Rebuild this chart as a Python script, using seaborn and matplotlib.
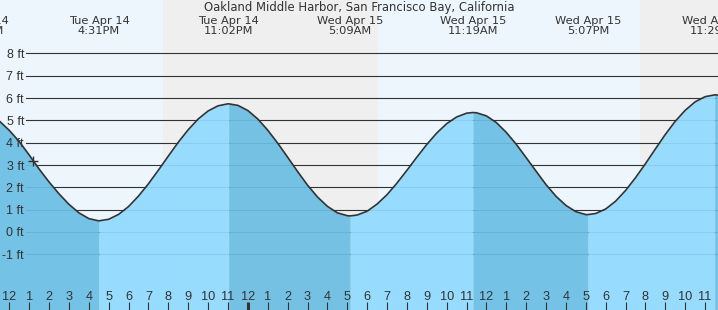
import pandas as pd
import matplotlib
matplotlib.use('Agg')
import matplotlib.pyplot as plt
import seaborn as sns
from matplotlib.transforms import blended_transform_factory

TITLE = "Oakland Middle Harbor, San Francisco Bay, California"
# time axis: hours since Tue Apr 14, 12:00 PM
extreme_hours = [-1.55, 4.517, 11.033, 17.15, 23.317, 29.117, 35.483]
extreme_heights = [5.75, 0.5, 5.74, 0.72, 5.35, 0.78, 6.14]
extreme_labels = ["Tue Apr 14\n10:27AM", "Tue Apr 14\n4:31PM", "Tue Apr 14\n11:02PM",
                  "Wed Apr 15\n5:09AM", "Wed Apr 15\n11:19AM", "Wed Apr 15\n5:07PM",
                  "Wed Apr 15\n11:29PM"]
night_start = [7.73, 31.74]
night_end = [18.55, 40.0]
hour_ticks = list(range(0, 36))
hour_labels = ["12", "1", "2", "3", "4", "5", "6", "7", "8", "9", "10", "11",
               "12", "1", "2", "3", "4", "5", "6", "7", "8", "9", "10", "11",
               "12", "1", "2", "3", "4", "5", "6", "7", "8", "9", "10", "11"]
ft_ticks = [-1, 0, 1, 2, 3, 4, 5, 6, 7, 8]
ft_labels = ["-1 ft", "0 ft", "1 ft", "2 ft", "3 ft", "4 ft", "5 ft", "6 ft", "7 ft", "8 ft"]
now_hour = 1.21
now_height = 3.18

# tide height readings every half hour, from -0.5 h to 36.0 h
read_hours = [-0.5, 0.0, 0.5, 1.0, 1.5, 2.0, 2.5, 3.0, 3.5, 4.0, 4.5, 5.0,
              5.5, 6.0, 6.5, 7.0, 7.5, 8.0, 8.5, 9.0, 9.5, 10.0, 10.5, 11.0,
              11.5, 12.0, 12.5, 13.0, 13.5, 14.0, 14.5, 15.0, 15.5, 16.0, 16.5, 17.0,
              17.5, 18.0, 18.5, 19.0, 19.5, 20.0, 20.5, 21.0, 21.5, 22.0, 22.5, 23.0,
              23.5, 24.0, 24.5, 25.0, 25.5, 26.0, 26.5, 27.0, 27.5, 28.0, 28.5, 29.0,
              29.5, 30.0, 30.5, 31.0, 31.5, 32.0, 32.5, 33.0, 33.5, 34.0, 34.5, 35.0,
              35.5, 36.0]
read_heights = [4.97, 4.55, 4.05, 3.45, 2.82, 2.24, 1.71, 1.24, 0.86, 0.60, 0.50, 0.57,
                0.79, 1.14, 1.61, 2.16, 2.77, 3.40, 4.02, 4.58, 5.06, 5.42, 5.65, 5.74,
                5.67, 5.44, 5.06, 4.56, 3.98, 3.35, 2.71, 2.10, 1.57, 1.15, 0.86, 0.73,
                0.76, 0.93, 1.25, 1.67, 2.19, 2.76, 3.35, 3.92, 4.43, 4.85, 5.15, 5.32,
                5.34, 5.20, 4.90, 4.46, 3.93, 3.33, 2.72, 2.12, 1.60, 1.19, 0.91, 0.78,
                0.83, 1.03, 1.38, 1.86, 2.43, 3.06, 3.72, 4.37, 4.96, 5.45, 5.83, 6.06,
                6.14, 6.12]

W, H = 718, 310
PXH = 19.88   # pixels per hour
X0 = 9.3      # pixel of first tick
PXF = 22.33   # pixels per foot
Y0 = 232      # pixel of 0 ft

fig = plt.figure(figsize=(W / 100, H / 100), dpi=100)
ax = fig.add_axes([0, 0, 1, 1])
xlim = (-X0 / PXH, (W - X0) / PXH)
ylim = ((Y0 - H) / PXF, Y0 / PXF)
ax.set_xlim(*xlim)
ax.set_ylim(*ylim)

DAY = '#edf6fd'
NIGHT = '#efefef'
DARK = '#6bbee4'
LIGHT = '#91daff'
TXT = '#333333'

ax.set_facecolor(DAY)
for s, e in zip(night_start, night_end):
    ax.axvspan(s, e, color=NIGHT, zorder=0, lw=0)

for v in ft_ticks:
    ax.axhline(v, xmin=26 / W, color=TXT, lw=0.8, zorder=0.5)

df = pd.DataFrame({'hour': read_hours + extreme_hours,
                   'height': read_heights + extreme_heights})
df = df.sort_values('hour').drop_duplicates('hour').reset_index(drop=True)

bounds = [xlim[0] - 1] + extreme_hours[1:] + [xlim[1] + 1]
for i in range(len(bounds) - 1):
    a, b = bounds[i], bounds[i + 1]
    seg = df[(df.hour >= a) & (df.hour <= b)]
    falling = seg.height.iloc[0] > seg.height.iloc[-1]
    ax.fill_between(seg.hour, ylim[0] - 1, seg.height, color=DARK if falling else LIGHT,
                    alpha=0.93, lw=0, zorder=1)

sns.lineplot(data=df, x='hour', y='height', ax=ax, color='#333333', lw=1.2, zorder=3)
ax.plot([now_hour], [now_height], marker='+', ms=7, mew=1.0, color='#333333', zorder=4)

ax.set_xlabel('')
ax.set_ylabel('')
for sp in ax.spines.values():
    sp.set_visible(False)

ax.set_yticks(ft_ticks)
ax.set_yticklabels(ft_labels)
ax.tick_params(axis='y', length=0, pad=-17.3, labelsize=9, labelcolor=TXT)
for lab in ax.get_yticklabels():
    lab.set_fontfamily('Liberation Sans')

ax.set_xticks(hour_ticks)
ax.set_xticklabels([''] * len(hour_ticks))
ax.tick_params(axis='x', direction='in', length=5.8, width=0.8, color=TXT)
ax.xaxis.get_major_ticks()[12].tick1line.set_markeredgewidth(2.2)

tb = blended_transform_factory(ax.transData, ax.transAxes)
for t, lab in zip(hour_ticks, hour_labels):
    ax.text(t, 9.8 / H, lab, transform=tb, ha='center', va='baseline', fontsize=9.2,
            color=TXT, family='Liberation Sans', zorder=5)

for t, lab in zip(extreme_hours, extreme_labels):
    ax.text(t, 1 - 25.9 / H, lab, transform=tb, ha='center', va='center', fontsize=8.2,
            color=TXT, family='DejaVu Sans', linespacing=1.03, zorder=5)

fig.text(0.5, 1 - 7.3 / H, TITLE, ha='center', va='center', fontsize=8.4, color=TXT,
         family='DejaVu Sans')

fig.savefig('out.png', dpi=100)
